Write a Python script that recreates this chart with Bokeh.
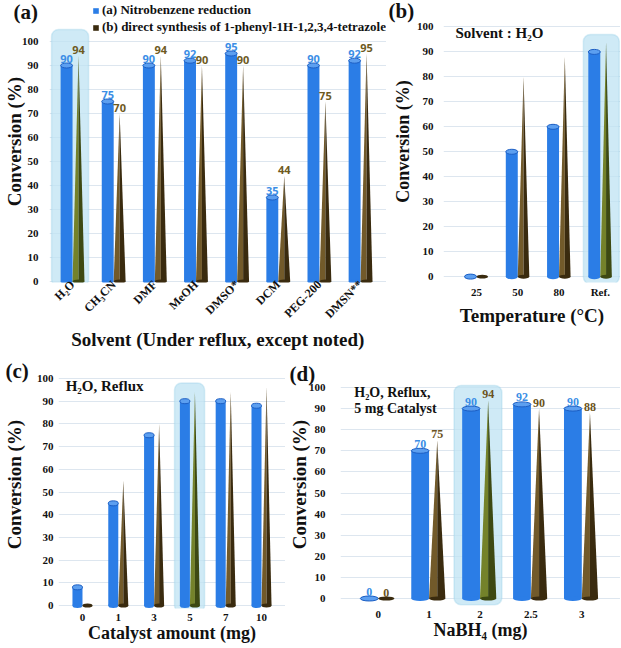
import math
from bokeh.plotting import figure
from bokeh.layouts import column, row
from bokeh.models import Range1d, FixedTicker, Label, Legend, LegendItem, BoxAnnotation, Title
from bokeh.core.properties import value
from bokeh.embed import file_html
from bokeh.resources import INLINE

# ---------------- data ----------------
solvents = ["H₂O", "CH₃CN", "DMF", "MeOH", "DMSO*", "DCM", "PEG-200", "DMSN**"]
a_reduction = [90, 75, 90, 92, 95, 35, 90, 92]
a_tetrazole = [94, 70, 94, 90, 90, 44, 75, 95]

temperatures = ["25", "50", "80", "Ref."]
b_reduction = [0, 50, 60, 90]
b_tetrazole = [0, 80, 88, 94]

catalyst_mg = ["0", "1", "3", "5", "7", "10"]
c_reduction = [8, 45, 75, 90, 90, 88]
c_tetrazole = [0, 55, 80, 94, 94, 96]

nabh4_mg = ["0", "1", "2", "2.5", "3"]
d_reduction = [0, 70, 90, 92, 90]
d_tetrazole = [0, 75, 94, 90, 88]

legend_labels = ["(a) Nitrobenzene reduction",
                 "(b) direct synthesis of 1-phenyl-1H-1,2,3,4-tetrazole"]

# ---------------- style ----------------
SERIF = "Liberation Serif"
BLUE = "#2b7de6"
BLUE_TOP = "#5c9ff0"
BLUE_EDGE = "#1d5fc4"
CONE_L = "#725a2a"
CONE_R = "#3a2b0f"
OLIVE_L = "#74822a"
OLIVE_R = "#3d4912"
HL_FILL = "#bfe3f3"
HL_LINE = "#8ccbe6"


def yrange(frame_h, y0, y100):
    s = (y0 - y100) / 100.0
    return (-(frame_h - y0) / s, y0 / s)


def make_fig(width, height, left, bottom, xr, yr, labels, xtitle, ytitle):
    p = figure(width=width, height=height, x_range=Range1d(*xr), y_range=Range1d(*yr),
               output_backend="svg", toolbar_location=None,
               min_border_left=left, min_border_right=0, min_border_top=0,
               min_border_bottom=bottom)
    p.outline_line_color = None
    p.xgrid.grid_line_color = None
    p.ygrid.grid_line_color = "#dde6ef"
    p.ygrid.grid_line_width = 1
    p.yaxis.ticker = FixedTicker(ticks=list(range(0, 101, 10)))
    p.xaxis.ticker = FixedTicker(ticks=list(range(len(labels))))
    p.xaxis.major_label_overrides = {i: lab for i, lab in enumerate(labels)}
    for ax in (p.xaxis[0], p.yaxis[0]):
        ax.axis_line_color = None
        ax.major_tick_line_color = None
        ax.minor_tick_line_color = None
        ax.major_tick_out = 0
        ax.major_tick_in = 0
        ax.major_label_text_font = SERIF
        ax.major_label_text_font_style = "bold"
        ax.major_label_text_font_size = "11px"
        ax.major_label_text_color = "#111111"
        ax.axis_label_text_font = SERIF
        ax.axis_label_text_font_style = "bold"
        ax.axis_label_text_color = "#111111"
        ax.axis_label_text_font_size = "19px"
    p.xaxis.axis_label = xtitle
    p.yaxis.axis_label = ytitle
    return p


def draw(p, red, tet, hl, bw, cw, box):
    n = len(red)
    hl_left, hl_right, hl_bottom, hl_top = box
    p.add_layout(BoxAnnotation(left=hl + hl_left, right=hl + hl_right,
                               bottom=hl_bottom, top=hl_top,
                               fill_color=HL_FILL, fill_alpha=0.75,
                               line_color=HL_LINE, line_width=1.5,
                               border_radius=7, level="underlay"))
    xb = [i - bw / 2 for i in range(n)]
    bars = p.vbar(x=xb, top=red, bottom=0, width=bw, fill_color=BLUE, line_color=None)
    p.ellipse(x=xb, y=[0] * n, width=bw, height=5, height_units="screen",
              fill_color=BLUE, line_color=None)
    p.ellipse(x=xb, y=red, width=bw, height=5, height_units="screen",
              fill_color=BLUE_TOP, line_color=BLUE_EDGE, line_width=1)
    groups = {"n": ([], [], [], []), "h": ([], [], [], [])}
    for i, v in enumerate(tet):
        g = groups["h" if i == hl else "n"]
        tip = i + cw / 2
        g[0].append([i, tip, tip])
        g[1].append([0, 0, v])
        g[2].append([tip, i + cw, tip])
        g[3].append([0, 0, v])
    cone_r = None
    for key, (cl, cr) in (("n", (CONE_L, CONE_R)), ("h", (OLIVE_L, OLIVE_R))):
        xl, yl, xr, yr = groups[key]
        if not xl:
            continue
        p.patches(xs=xl, ys=yl, fill_color=cl, line_color=None)
        r = p.patches(xs=xr, ys=yr, fill_color=cr, line_color=None)
        if key == "n":
            cone_r = r
    xc = [i + cw / 2 for i in range(n)]
    p.ellipse(x=xc, y=[0] * n, width=cw, height=4, height_units="screen",
              fill_color=[OLIVE_R if i == hl else CONE_R for i in range(n)], line_color=None)
    return bars, cone_r, xb, xc


def values_text(p, xb, red, xc, tet, font, size, blue_col, brown_col):
    p.text(x=xb, y=red, text=[str(v) for v in red], text_align="center",
           text_baseline="bottom", y_offset=-3, text_font=value(font),
           text_font_style="bold", text_font_size=size, text_color=blue_col)
    p.text(x=xc, y=tet, text=[str(v) for v in tet], text_align="center",
           text_baseline="bottom", y_offset=-2, text_font=value(font),
           text_font_style="bold", text_font_size=size, text_color=brown_col)


def panel_label(p, txt, offset, standoff):
    p.add_layout(Title(text=txt, align="left", vertical_align="bottom",
                       offset=offset, standoff=standoff,
                       text_font=SERIF, text_font_style="bold", text_font_size="21px",
                       text_color="#111111"), "above")


def note(p, txt, x, y, size="15px"):
    p.add_layout(Label(x=x, y=y, text=txt, text_font=SERIF, text_font_style="bold",
                       text_font_size=size, text_color="#111111",
                       text_baseline="middle", text_align="left"))


# ---------------- panel (a) ----------------
A_FH = 282
pa = make_fig(386, 360, 48, 360 - A_FH, (-0.56, 7.63), yrange(A_FH, 281, 41), solvents,
              "Solvent (Under reflux, except noted)", "Conversion (%)")
pa.xaxis.major_label_orientation = math.pi / 4
pa.xaxis.major_label_text_font_size = "12px"
pa.xaxis.major_label_standoff = 0
pa.xaxis.axis_label_standoff = 0
pa.yaxis.major_label_standoff = 11
pa.yaxis.axis_label_standoff = -6
bars, cone_r, xb, xc = draw(pa, a_reduction, a_tetrazole, 0, 0.29, 0.29, (-0.51, 0.39, -2, 105))
values_text(pa, xb, a_reduction, xc, a_tetrazole, "Open Sans", "11px", "#3b8ee6", "#6e5a1e")
legend = Legend(items=[LegendItem(label=legend_labels[0], renderers=[bars]),
                       LegendItem(label=legend_labels[1], renderers=[cone_r])],
                location=(43, A_FH - 35), orientation="vertical",
                label_text_font=SERIF, label_text_font_style="bold",
                label_text_font_size="13px", label_text_color="#111111",
                glyph_width=7, glyph_height=7, label_standoff=3, label_height=14,
                padding=0, spacing=1, margin=0, border_line_color=None,
                background_fill_alpha=0)
pa.add_layout(legend)
panel_label(pa, "(a)", -36, -46)

# ---------------- panel (b) ----------------
B_FH = 288
pb = make_fig(234, 360, 57, 360 - B_FH, (-0.8, 3.49), yrange(B_FH, 282, 27), temperatures,
              "Temperature (°C)", "Conversion (%)")
pb.xaxis.major_label_standoff = 3
pb.xaxis.axis_label_standoff = 4
pb.yaxis.major_label_standoff = 10
pb.yaxis.axis_label_standoff = 1
pb.yaxis.axis_label_text_font_size = "18px"
draw(pb, b_reduction, b_tetrazole, 3, 0.29, 0.28, (-0.41, 0.46, -3, 97))
note(pb, "Solvent : H₂O", -0.51, 97.6)
panel_label(pb, "(b)", -55, -44)

# ---------------- panel (c) ----------------
C_FH = 248
pc = make_fig(285, 286, 58, 286 - C_FH, (-0.67, 5.67), yrange(C_FH, 245, 18), catalyst_mg,
              "Catalyst amount (mg)", "Conversion (%)")
pc.xaxis.major_label_standoff = 5
pc.xaxis.axis_label_standoff = -1
pc.xaxis.axis_label_text_font_size = "18px"
pc.yaxis.major_label_standoff = 5
pc.yaxis.axis_label_standoff = 9
draw(pc, c_reduction, c_tetrazole, 3, 0.28, 0.28, (-0.43, 0.41, -3, 98))
note(pc, "H₂O, Reflux", -0.47, 96.9)
panel_label(pc, "(c)", -53, -44)

# ---------------- panel (d) ----------------
D_FH = 248
pd_ = make_fig(335, 286, 53, 286 - D_FH, (-0.74, 4.76), yrange(D_FH, 238, 27), nabh4_mg,
               "NaBH₄ (mg)", "Conversion (%)")
pd_.xaxis.major_label_standoff = 2
pd_.xaxis.axis_label_standoff = -1
pd_.xaxis.axis_label_text_font_size = "18px"
pd_.yaxis.major_label_standoff = 15
pd_.yaxis.axis_label_standoff = -4
_, _, xb_d, xc_d = draw(pd_, d_reduction, d_tetrazole, 2, 0.35, 0.32, (-0.51, 0.43, -3, 101))
values_text(pd_, xb_d, d_reduction, xc_d, d_tetrazole, SERIF, "12px", "#3b8ee6", "#6b5220")
note(pd_, "H₂O, Reflux,", -0.47, 97.6, "14px")
note(pd_, "5 mg Catalyst", -0.47, 90, "14px")
panel_label(pd_, "(d)", -51, -50)

layout = column(row(pa, pb), row(pc, pd_))
open("out.html", "w").write(file_html(layout, INLINE))
